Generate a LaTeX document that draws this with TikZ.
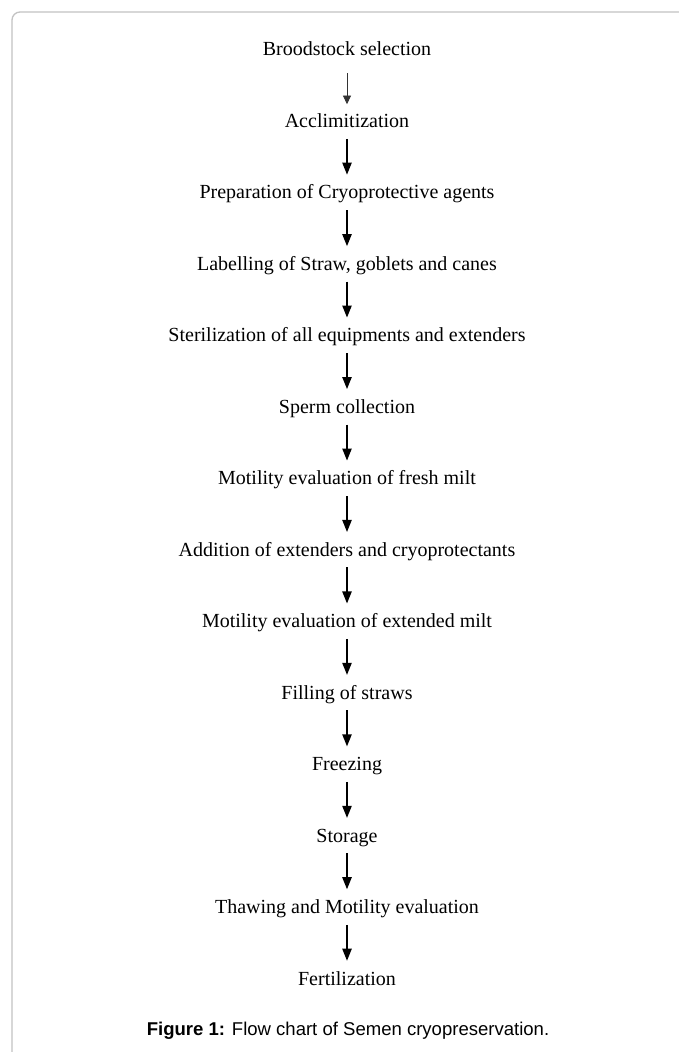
\documentclass[tikz,border=0pt]{standalone}
\usepackage{fontspec}
\setmainfont{Liberation Serif}
\newfontfamily\capfont{Liberation Sans}
\usetikzlibrary{arrows.meta}
\definecolor{framec}{RGB}{195,195,195}
\begin{document}
\begin{tikzpicture}[x=0.75pt,y=-0.75pt,
  stepnode/.style={font=\fontsize{15pt}{18pt}\selectfont, inner sep=0pt, text height=10.5pt, text depth=3pt, minimum height=24pt},
  arr/.style={-{Triangle[length=9pt,width=7pt]}, line width=1pt, shorten >=2.25pt},
  thinarr/.style={-{Triangle[length=6.5pt,width=6pt]}, line width=0.6pt, draw=black!80, fill=black!80, shorten <=4.5pt, shorten >=1.5pt}]
\useasboundingbox (0,0) rectangle (678,1052);
\fill[white] (0,0) rectangle (678,1052);
\draw[framec, line width=1pt, rounded corners=6pt] (700,12) -- (12,12) -- (12,1080);
\node[stepnode] (n0) at (347,51) {Broodstock selection};
\node[stepnode] (n1) at (347,122.5) {Acclimitization};
\node[stepnode] (n2) at (347,193.9) {Preparation of Cryoprotective agents};
\node[stepnode] (n3) at (347,265.4) {Labelling of Straw, goblets and canes};
\node[stepnode] (n4) at (347,336.8) {Sterilization of all equipments and extenders};
\node[stepnode] (n5) at (347,408.3) {Sperm collection};
\node[stepnode] (n6) at (347,479.8) {Motility evaluation of fresh milt};
\node[stepnode] (n7) at (347,551.2) {Addition of extenders and cryoprotectants};
\node[stepnode] (n8) at (347,622.7) {Motility evaluation of extended milt};
\node[stepnode] (n9) at (347,694.1) {Filling of straws};
\node[stepnode] (n10) at (347,765.6) {Freezing};
\node[stepnode] (n11) at (347,837.1) {Storage};
\node[stepnode] (n12) at (347,908.5) {Thawing and Motility evaluation};
\node[stepnode] (n13) at (347,980) {Fertilization};
\draw[thinarr] (n0.south) -- (n1.north);
\foreach \a/\b in {1/2,2/3,3/4,4/5,5/6,6/7,7/8,8/9,9/10,10/11,11/12,12/13}
  \draw[arr] (n\a.south) -- (n\b.north);
\node[font=\capfont\fontsize{13.9pt}{16pt}\selectfont, inner sep=0pt] (cap) at (348,1031) {\textbf{Figure 1:} Flow chart of Semen cryopreservation.};
\end{tikzpicture}
\end{document}
